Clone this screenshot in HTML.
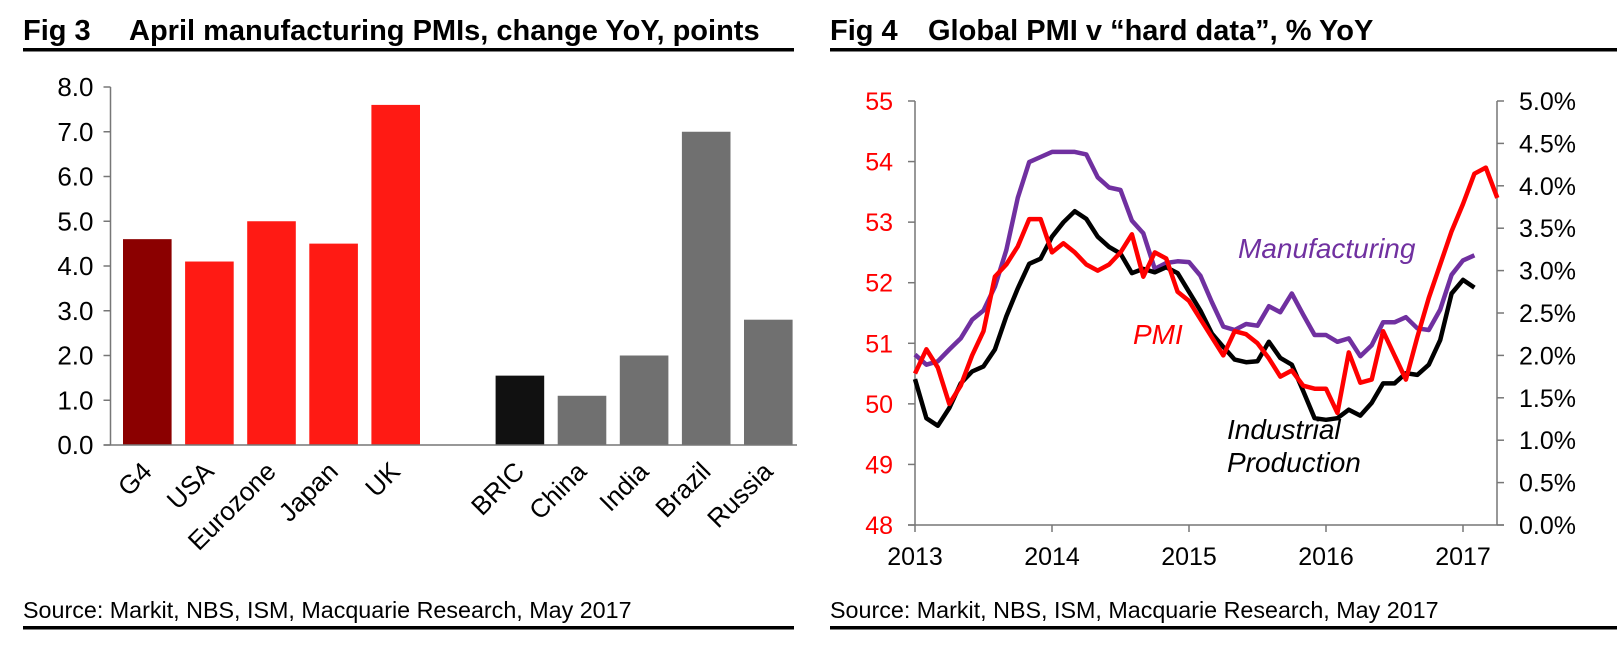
<!DOCTYPE html>
<html><head><meta charset="utf-8">
<style>
body{margin:0;background:#fff;width:1620px;height:649px;overflow:hidden;font-family:"Liberation Sans",Arial,sans-serif;}
svg text{font-family:"Liberation Sans",Arial,sans-serif;}
</style></head>
<body>
<svg id="root" width="1620" height="649" viewBox="0 0 1620 649">
  <g>
    <text x="23" y="40" font-size="29" font-weight="bold">Fig 3</text>
    <text x="129" y="40" font-size="29" font-weight="bold">April manufacturing PMIs, change YoY, points</text>
    <rect x="23" y="48" width="771" height="3.5" fill="#000"/>
  </g>
  <g id="bars"></g>
  <g>
    <text x="23" y="618" font-size="23.3">Source: Markit, NBS, ISM, Macquarie Research, May 2017</text>
    <rect x="23" y="626" width="771" height="3.5" fill="#000"/>
  </g>

  <g>
    <text x="830" y="40" font-size="29" font-weight="bold">Fig 4</text>
    <text x="928" y="40" font-size="29" font-weight="bold">Global PMI v “hard data”, % YoY</text>
    <rect x="830" y="48" width="787" height="3.5" fill="#000"/>
  </g>
  <g id="lines"></g>
  <g>
    <text x="830" y="618" font-size="23.3">Source: Markit, NBS, ISM, Macquarie Research, May 2017</text>
    <rect x="830" y="626" width="787" height="3.5" fill="#000"/>
  </g>
</svg>
<script>
const barCategories = ["G4","USA","Eurozone","Japan","UK","","BRIC","China","India","Brazil","Russia"];
const barValues = [4.6,4.1,5.0,4.5,7.6,null,1.55,1.1,2.0,7.0,2.8];
const barColors = ["#8b0000","#ff1a14","#ff1a14","#ff1a14","#ff1a14",null,"#111111","#707070","#707070","#707070","#707070"];
const barTicks = ["0.0","1.0","2.0","3.0","4.0","5.0","6.0","7.0","8.0"];

const pmiValues = [50.5,50.9,50.6,50.0,50.3,50.8,51.2,52.1,52.3,52.6,53.05,53.05,52.5,52.65,52.5,52.3,52.2,52.3,52.5,52.8,52.1,52.5,52.4,51.85,51.7,51.4,51.1,50.8,51.2,51.15,51.0,50.75,50.45,50.55,50.3,50.25,50.25,49.85,50.85,50.35,50.4,51.2,50.8,50.4,51.1,51.75,52.3,52.85,53.3,53.8,53.9,53.4];
const mfgValues = [2.01,1.89,1.93,2.07,2.20,2.42,2.53,2.81,3.24,3.86,4.28,4.34,4.40,4.40,4.40,4.37,4.10,3.98,3.95,3.59,3.44,3.02,3.09,3.11,3.10,2.94,2.63,2.34,2.30,2.37,2.35,2.58,2.51,2.73,2.48,2.24,2.24,2.16,2.20,1.99,2.12,2.39,2.39,2.45,2.32,2.30,2.54,2.95,3.12,3.18];
const ipValues = [1.72,1.26,1.17,1.38,1.67,1.81,1.87,2.07,2.46,2.79,3.08,3.14,3.40,3.57,3.70,3.61,3.40,3.28,3.20,2.97,3.02,2.98,3.04,2.97,2.75,2.53,2.26,2.10,1.95,1.92,1.93,2.16,1.97,1.89,1.58,1.26,1.24,1.26,1.36,1.29,1.44,1.67,1.67,1.79,1.77,1.89,2.18,2.73,2.89,2.80];
const yearLabels = ["2013","2014","2015","2016","2017"];
const leftTicks = ["48","49","50","51","52","53","54","55"];
const rightTicks = ["0.0%","0.5%","1.0%","1.5%","2.0%","2.5%","3.0%","3.5%","4.0%","4.5%","5.0%"];

const NS="http://www.w3.org/2000/svg";
function mk(tag, attrs, parent, txt){const e=document.createElementNS(NS,tag);for(const k in attrs)e.setAttribute(k,attrs[k]);if(txt!==undefined)e.textContent=txt;parent.appendChild(e);return e;}

// ---- Bar chart ----
const bg=document.getElementById('bars');
const bx0=110.5, slot=62.1, bw=48.6, by0=445, by8=87;
const bY=v=>by0-(v/8)*(by0-by8);
const bX=i=>bx0+i*slot+12.5;
let e=mk('line',{x1:bx0,y1:by8,x2:bx0,y2:by0,stroke:'#777','stroke-width':1.5},bg);


barTicks.forEach((t,i)=>{
  const v=parseFloat(t), y=bY(v);
  let tk=mk('line',{x1:bx0-7,y1:y,x2:bx0,y2:y,stroke:'#777','stroke-width':1.5},bg);
  
  
  let tl=mk('text',{x:bx0-17,y:y+9,'font-size':26,'text-anchor':'end'},bg,t);
  
  
});
barValues.forEach((v,i)=>{
  if(v===null) return;
  const r=mk('rect',{x:bX(i),y:bY(v),width:bw,height:by0-bY(v),fill:barColors[i]},bg);
  
  
  const cx=bX(i)+bw/2+6, cy=by0+28;
  const l=mk('text',{x:cx,y:cy,'font-size':26,'text-anchor':'end',transform:`rotate(-45 ${cx} ${cy})`},bg,barCategories[i]);
  
  
});
e=mk('line',{x1:bx0-7,y1:by0,x2:797,y2:by0,stroke:'#777','stroke-width':1.5},bg);



// ---- Line chart ----
const lg=document.getElementById('lines');
const lx0=915, lx1=1497, month=(1463-915)/48, ly55=101, ly48=525;
const xM=i=>lx0+i*month;
const yL=v=>ly48-(v-48)/7*(ly48-ly55);
const yR=p=>ly48-p/5*(ly48-ly55);
e=mk('line',{x1:lx0,y1:ly55,x2:lx0,y2:ly48,stroke:'#777','stroke-width':1.5},lg);


e=mk('line',{x1:lx1,y1:ly55,x2:lx1,y2:ly48,stroke:'#777','stroke-width':1.5},lg);


e=mk('line',{x1:lx0-7,y1:ly48,x2:lx1+7,y2:ly48,stroke:'#777','stroke-width':1.5},lg);


leftTicks.forEach(t=>{
  const y=yL(parseFloat(t));
  let tk=mk('line',{x1:lx0-7,y1:y,x2:lx0,y2:y,stroke:'#777','stroke-width':1.5},lg);
  
  
  let tl=mk('text',{x:lx0-22,y:y+9,'font-size':25,'text-anchor':'end',fill:'#ff0000'},lg,t);
  
  
});
rightTicks.forEach(t=>{
  const y=yR(parseFloat(t));
  let tk=mk('line',{x1:lx1,y1:y,x2:lx1+7,y2:y,stroke:'#777','stroke-width':1.5},lg);
  
  
  let tl=mk('text',{x:lx1+22,y:y+9,'font-size':25},lg,t);
  
  
});
yearLabels.forEach((t,k)=>{
  const x=xM(k*12);
  let tk=mk('line',{x1:x,y1:ly48,x2:x,y2:ly48+7,stroke:'#777','stroke-width':1.5},lg);
  
  
  let tl=mk('text',{x:x,y:ly48+40,'font-size':25,'text-anchor':'middle'},lg,t);
  
  
});
function series(vals,yf,color,name){
  const d=vals.map((v,i)=>(i?'L':'M')+xM(i).toFixed(1)+' '+yf(v).toFixed(1)).join(' ');
  const p=mk('path',{d:d,fill:'none',stroke:color,'stroke-width':4.5,'stroke-linejoin':'round'},lg);
  
  
}
series(mfgValues,yR,'#7030a0','manufacturing-line');
series(ipValues,yR,'#000000','industrial-production-line');
series(pmiValues,yL,'#ff0000','pmi-line');
e=mk('text',{x:1238,y:258,'font-size':28,'font-style':'italic',fill:'#7030a0'},lg,'Manufacturing');


e=mk('text',{x:1133,y:344,'font-size':28,'font-style':'italic',fill:'#ff0000'},lg,'PMI');


e=mk('text',{x:1227,y:439,'font-size':28,'font-style':'italic',fill:'#000'},lg,'Industrial');


e=mk('text',{x:1227,y:472,'font-size':28,'font-style':'italic',fill:'#000'},lg,'Production');


</script>
</body></html>
